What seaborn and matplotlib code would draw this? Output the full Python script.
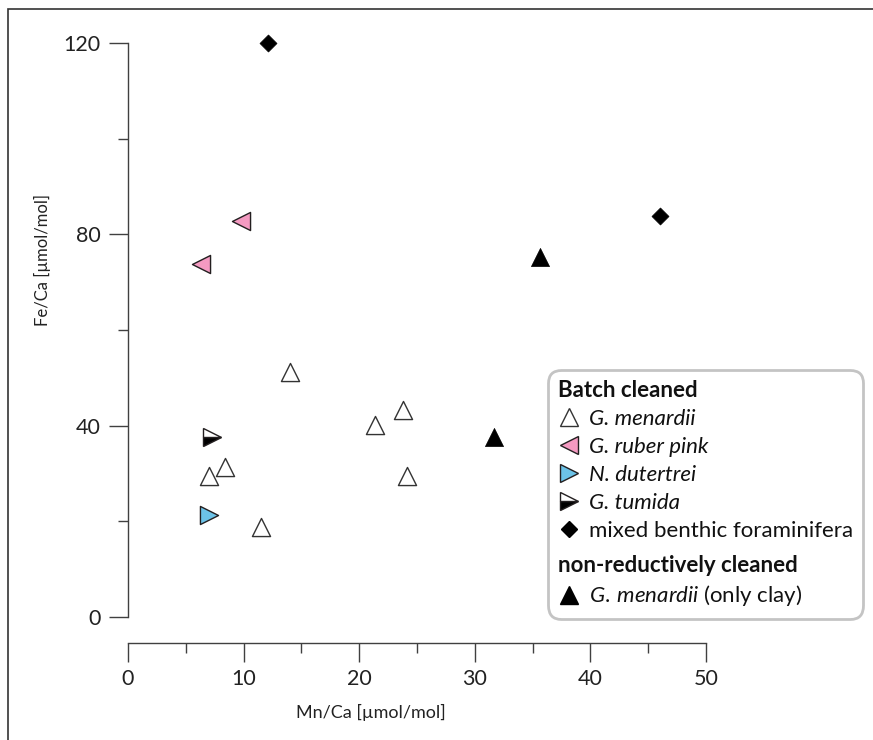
import matplotlib
matplotlib.use("Agg")
import matplotlib.pyplot as plt
from matplotlib.lines import Line2D
from matplotlib.patches import Rectangle
import seaborn as sns

# values (Mn/Ca, Fe/Ca in umol/mol)
menardii_mn = [14.0, 21.4, 23.8, 24.1, 8.4, 7.0, 11.5]
menardii_fe = [51.2, 40.1, 43.3, 29.5, 31.4, 29.4, 18.8]
ruber_mn = [9.8, 6.3]
ruber_fe = [82.8, 73.7]
dutertrei_mn = [7.0]
dutertrei_fe = [21.3]
tumida_mn = [7.3]
tumida_fe = [37.6]
benthic_mn = [12.1, 46.0]
benthic_fe = [120.0, 83.8]
clay_mn = [35.6, 31.7]
clay_fe = [75.3, 37.6]

x_ticks = [0, 10, 20, 30, 40, 50]
y_ticks = [0, 40, 80, 120]

PINK = "#f49ac1"
BLUE = "#6cc3e8"
EDGE = "#231f20"
AXC = "#404040"

sns.set_style("ticks")
plt.rcParams["font.family"] = ["Lato", "DejaVu Sans"]
plt.rcParams["mathtext.fontset"] = "custom"
plt.rcParams["mathtext.it"] = "Lato:italic"
plt.rcParams["mathtext.rm"] = "Lato"

fig = plt.figure(figsize=(8.73, 7.4), dpi=100)
# axes box in pixels: left 128, right 866, top 30, bottom 630
ax = fig.add_axes([128 / 873, 110 / 740, 738 / 873, 600 / 740])

sns.scatterplot(x=menardii_mn, y=menardii_fe, marker="^", s=170, color="white",
                edgecolor="#333333", linewidth=1.0, ax=ax, zorder=3)
sns.scatterplot(x=ruber_mn, y=ruber_fe, marker="<", s=170, color=PINK,
                edgecolor=EDGE, linewidth=1.0, ax=ax, zorder=3)
sns.scatterplot(x=dutertrei_mn, y=dutertrei_fe, marker=">", s=170, color=BLUE,
                edgecolor=EDGE, linewidth=1.0, ax=ax, zorder=3)
sns.scatterplot(x=benthic_mn, y=benthic_fe, marker="D", s=75, color="black",
                edgecolor="black", linewidth=0.5, ax=ax, zorder=3)
sns.scatterplot(x=clay_mn, y=clay_fe, marker="^", s=170, color="black",
                edgecolor="black", linewidth=0.5, ax=ax, zorder=3)
# half filled marker for G. tumida
ax.plot(tumida_mn, tumida_fe, linestyle="", marker=">", markersize=13,
        fillstyle="bottom", markerfacecolor="black", markerfacecoloralt="white",
        markeredgecolor=EDGE, markeredgewidth=1.0, zorder=3)

ax.set_xlim(0, 63.84)
ax.set_ylim(-2.72, 122.73)
ax.set_xticks(x_ticks)
ax.set_yticks(y_ticks)
ax.set_xticks([5, 15, 25, 35, 45], minor=True)
ax.set_yticks([20, 60, 100], minor=True)

for side in ["top", "right"]:
    ax.spines[side].set_visible(False)
ax.spines["bottom"].set_position(("data", -5.44))
ax.spines["bottom"].set_bounds(0, 50)
ax.spines["left"].set_bounds(0, 120)
for side in ["bottom", "left"]:
    ax.spines[side].set_color(AXC)
    ax.spines[side].set_linewidth(1.0)

ax.tick_params(which="major", length=13.5, width=1.0, color=AXC,
               labelsize=15.5, labelcolor="#222222", pad=6)
ax.tick_params(axis="x", which="major", pad=5)
ax.tick_params(which="minor", length=7, width=1.0, color=AXC)

ax.set_xlabel("Mn/Ca [µmol/mol]", fontsize=13, color="#222222")
ax.set_ylabel("Fe/Ca [µmol/mol]", fontsize=12, color="#222222")
ax.xaxis.set_label_coords(0.329, -0.137)
ax.xaxis.label.set_va("center")
ax.yaxis.set_label_coords(-0.1165, 0.617)
ax.yaxis.label.set_va("center")

# legend
blank = Line2D([], [], linestyle="", marker="")
handles = [
    blank,
    Line2D([], [], linestyle="", marker="^", markersize=13, markerfacecolor="white",
           markeredgecolor="#333333", markeredgewidth=1.0),
    Line2D([], [], linestyle="", marker="<", markersize=13, markerfacecolor=PINK,
           markeredgecolor=EDGE, markeredgewidth=1.0),
    Line2D([], [], linestyle="", marker=">", markersize=13, markerfacecolor=BLUE,
           markeredgecolor=EDGE, markeredgewidth=1.0),
    Line2D([], [], linestyle="", marker=">", markersize=13, fillstyle="bottom",
           markerfacecolor="black", markerfacecoloralt="white",
           markeredgecolor=EDGE, markeredgewidth=1.0),
    Line2D([], [], linestyle="", marker="D", markersize=8.5, markerfacecolor="black",
           markeredgecolor="black"),
    Line2D([], [], linestyle="", marker=""),
    Line2D([], [], linestyle="", marker="^", markersize=13, markerfacecolor="black",
           markeredgecolor="black"),
]
labels = ["Batch cleaned", "G. menardii", "G. ruber pink", "N. dutertrei", "G. tumida",
          "mixed benthic foraminifera", "non-reductively cleaned",
          r"$\mathit{G.\:menardii}$ (only clay)"]
leg = ax.legend(handles, labels, loc="upper left",
                bbox_to_anchor=((548 - 128) / 738, (630 - 370) / 600),
                borderaxespad=0, fontsize=16, handlelength=0.95, handletextpad=0.45,
                labelspacing=0.36, borderpad=0.45, frameon=True, fancybox=True)
frame = leg.get_frame()
frame.set_edgecolor("#c4c4c4")
frame.set_linewidth(2.0)
frame.set_facecolor("white")
frame.set_alpha(1)
frame.set_boxstyle("round,pad=0,rounding_size=0.6")

texts = leg.get_texts()
for i, t in enumerate(texts):
    t.set_color("#111111")
    if i in (0, 6):
        t.set_fontweight("bold")
    elif i in (1, 2, 3, 4):
        t.set_fontstyle("italic")

rows = leg._legend_handle_box.get_children()[0].get_children()
for i, row in enumerate(rows):
    if i in (0, 6):
        row.get_children()[0].width = 0
        row.sep = 0
    if i == 6:
        row.get_children()[0].height += 5

# figure border
fig.add_artist(Rectangle((8 / 873, -0.1), 2, 1.1 - 8.5 / 740, transform=fig.transFigure,
                         fill=False, edgecolor="#333333", linewidth=1.2))

fig.savefig("out.png", dpi=100)
